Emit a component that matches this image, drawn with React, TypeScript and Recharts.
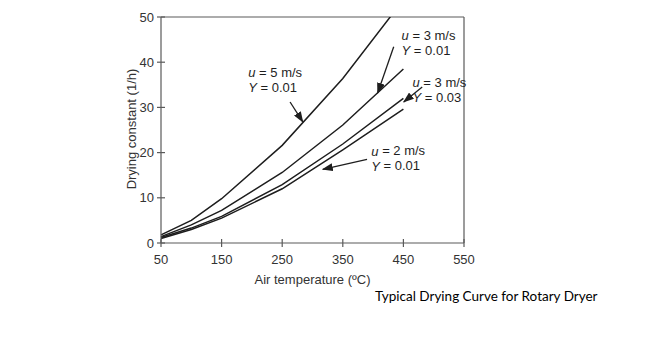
import React from 'react';
import { LineChart, Line, XAxis, YAxis, ReferenceLine, ReferenceDot } from 'recharts';

// air temperature (°C) and drying constant (1/h)
const temps = [50, 100, 150, 250, 350, 450];
const u5y01 = [1.8, 5.0, 9.8, 21.6, 36.4, 53.8];
const u3y01 = [1.4, 4.0, 7.2, 15.6, 26.1, 38.5];
const u3y03 = [1.2, 3.3, 5.9, 12.9, 21.9, 32.0];
const u2y01 = [1.0, 3.0, 5.5, 12.0, 20.6, 29.6];

const xTicks = [50, 150, 250, 350, 450, 550];
const yTicks = [0, 10, 20, 30, 40, 50];

// annotations (data coordinates)
const labelSpeed = ['5', '3', '3', '2'];
const labelHumidity = ['0.01', '0.01', '0.03', '0.01'];
const labelX = [194, 447, 465, 397];
const labelY = [37.8, 46, 35.6, 20.4];
const arrowFromX = [263, 434, 481, 390];
const arrowFromY = [31.2, 43.4, 34.5, 18.5];
const arrowToX = [284, 407.5, 450.6, 317];
const arrowToY = [26.8, 33.2, 31.2, 16.3];

const data = temps.map((t, i) => ({
  t,
  a: u5y01[i],
  b: u3y01[i],
  c: u3y03[i],
  d: u2y01[i],
}));

const FONT = '"Liberation Sans", Arial, sans-serif';
const AXIS = '#5a5a5a';
const TEXT = '#333';
const INK = '#1e1e1e';

const XTick = (props: any) => {
  const { x, y, payload } = props;
  return (
    <g>
      <line x1={x} y1={y - 4} x2={x} y2={y + 4} stroke={AXIS} strokeWidth={1.2} />
      <text x={x} y={y + 16} textAnchor="middle" dominantBaseline="central" fontSize={13} fontFamily={FONT} fill={TEXT}>
        {payload.value}
      </text>
    </g>
  );
};

const YTick = (props: any) => {
  const { x, y, payload } = props;
  return (
    <g>
      <line x1={x - 4} y1={y} x2={x + 4} y2={y} stroke={AXIS} strokeWidth={1.2} />
      <text x={x - 7} y={y} textAnchor="end" dominantBaseline="central" fontSize={13} fontFamily={FONT} fill={TEXT}>
        {payload.value}
      </text>
    </g>
  );
};

const YTitle = (props: any) => {
  const vb = props.viewBox || {};
  const cx = vb.x + 10;
  const cy = vb.y + vb.height / 2 - 1;
  return (
    <text
      x={cx}
      y={cy}
      transform={`rotate(-90, ${cx}, ${cy})`}
      textAnchor="middle"
      dominantBaseline="central"
      fontSize={13}
      fontFamily={FONT}
      fill={TEXT}
    >
      Drying constant (1/h)
    </text>
  );
};

const Note = ({ cx, cy, i }: any) => (
  <g fontSize={13} fontFamily={FONT} fill={INK}>
    <text x={cx} y={cy} dominantBaseline="central">
      <tspan fontStyle="italic">u</tspan>
      {` = ${labelSpeed[i]} m/s`}
    </text>
    <text x={cx} y={cy + 15} dominantBaseline="central">
      <tspan fontStyle="italic">Y</tspan>
      {` = ${labelHumidity[i]}`}
    </text>
  </g>
);

const Arrow = (p: any) => (
  <line x1={p.x1} y1={p.y1} x2={p.x2} y2={p.y2} stroke={INK} strokeWidth={1.3} markerEnd="url(#arrowHead)" />
);

export default function App() {
  return (
    <div style={{ position: 'absolute', left: 0, top: 0, width: 646, height: 354, background: '#fff' }}>
      <svg width={0} height={0} style={{ position: 'absolute' }}>
        <defs>
          <marker id="arrowHead" markerWidth="11" markerHeight="8" refX="10" refY="4" orient="auto" markerUnits="userSpaceOnUse">
            <path d="M0,0 L11,4 L0,8 z" fill={INK} />
          </marker>
        </defs>
      </svg>
      <LineChart width={646} height={354} data={data} margin={{ top: 17, right: 182, bottom: 81, left: 121 }}>
        <XAxis
          dataKey="t"
          type="number"
          domain={[50, 550]}
          ticks={xTicks}
          tickLine={false}
          tickSize={0}
          tickMargin={0}
          tick={<XTick />}
          height={30}
          axisLine={{ stroke: AXIS, strokeWidth: 1.2 }}
          label={{ value: 'Air temperature (ºC)', position: 'insideBottom', offset: -11, fontSize: 13, fontFamily: FONT, fill: TEXT }}
        />
        <YAxis
          type="number"
          domain={[0, 50]}
          ticks={yTicks}
          allowDataOverflow
          tickLine={false}
          tickSize={0}
          tickMargin={0}
          tick={<YTick />}
          width={40}
          axisLine={{ stroke: AXIS, strokeWidth: 1.2 }}
          label={<YTitle />}
        />
        <ReferenceLine y={50} stroke={AXIS} strokeWidth={1.2} />
        <ReferenceLine x={550} stroke={AXIS} strokeWidth={1.2} />
        <Line dataKey="a" stroke={INK} strokeWidth={1.5} dot={false} type="linear" isAnimationActive={false} />
        <Line dataKey="b" stroke={INK} strokeWidth={1.5} dot={false} type="linear" isAnimationActive={false} />
        <Line dataKey="c" stroke={INK} strokeWidth={1.5} dot={false} type="linear" isAnimationActive={false} />
        <Line dataKey="d" stroke={INK} strokeWidth={1.5} dot={false} type="linear" isAnimationActive={false} />
        {labelX.map((lx, i) => (
          <ReferenceLine
            key={`arrow-${i}`}
            segment={[
              { x: arrowFromX[i], y: arrowFromY[i] },
              { x: arrowToX[i], y: arrowToY[i] },
            ]}
            ifOverflow="visible"
            shape={<Arrow />}
          />
        ))}
        {labelX.map((lx, i) => (
          <ReferenceDot
            key={`note-${i}`}
            x={lx}
            y={labelY[i]}
            r={0}
            ifOverflow="visible"
            shape={(p: any) => <Note cx={p.cx} cy={p.cy} i={i} />}
          />
        ))}
      </LineChart>
      <div
        style={{
          position: 'absolute',
          left: 375,
          top: 288,
          fontFamily: 'Lato, "Open Sans", sans-serif',
          fontSize: 13.5,
          color: '#000',
          whiteSpace: 'nowrap',
        }}
      >
        Typical Drying Curve for Rotary Dryer
      </div>
    </div>
  );
}
